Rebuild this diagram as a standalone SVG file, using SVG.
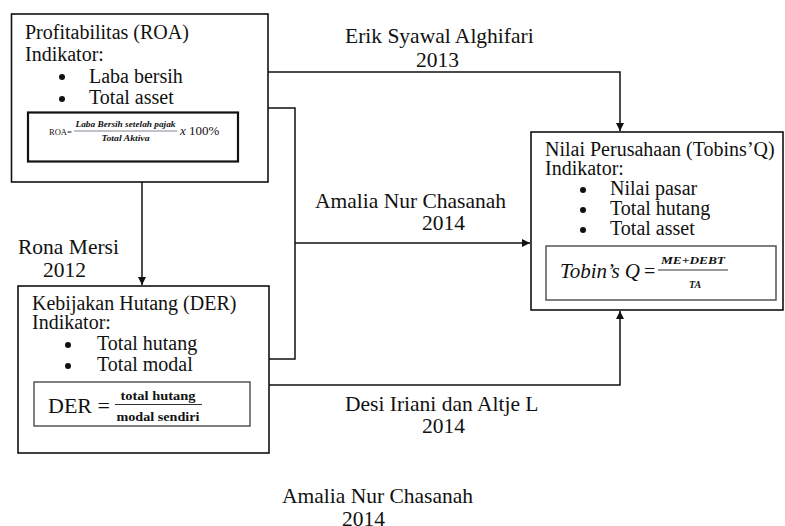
<svg xmlns="http://www.w3.org/2000/svg" width="785" height="526" viewBox="0 0 785 526" font-family="'Liberation Serif', 'DejaVu Serif', serif">
<defs>
<style>
text{font-family:'Liberation Serif','DejaVu Serif',serif;fill:#111}
.t{font-size:20px}
.lb{font-size:21.5px}
.box{fill:#fff;stroke:#111;stroke-width:1.6}
.fbox{fill:#fff;stroke:#555;stroke-width:1.5}
.con{fill:none;stroke:#111;stroke-width:1.5}
.dot{fill:#111}
</style>
<marker id="ah" viewBox="0 0 10 10" refX="10" refY="5" markerWidth="8" markerHeight="8" markerUnits="userSpaceOnUse" orient="auto">
<path d="M0,0 L10,5 L0,10 z" fill="#111"/>
</marker>
</defs>
<rect width="785" height="526" fill="#fff"/>

<g id="connectors">
<path class="con" d="M268,72 H620 V131" marker-end="url(#ah)"/>
<path class="con" d="M268,108 H295 V359 H269"/>
<path class="con" d="M295,243 H530" marker-end="url(#ah)"/>
<path class="con" d="M269,385 H620 V311" marker-end="url(#ah)"/>
<path class="con" d="M142,182 V285" marker-end="url(#ah)"/>
</g>

<g id="roa">
<rect class="box" x="11.5" y="14" width="256.5" height="168"/>
<text class="t" x="25" y="39">Profitabilitas (ROA)</text>
<text class="t" x="25" y="61">Indikator:</text>
<circle class="dot" cx="62" cy="77" r="3"/>
<text class="t" x="89" y="83">Laba bersih</text>
<circle class="dot" cx="62" cy="99" r="3"/>
<text class="t" x="89" y="104">Total asset</text>
<rect x="28" y="112.5" width="210" height="49" fill="#fff" stroke="#111" stroke-width="2.2"/>
<text x="49" y="135" font-size="8.5" fill="#667">ROA=</text>
<text x="125.5" y="127" font-size="7.5" font-style="italic" font-weight="bold" fill="#667" text-anchor="middle" textLength="100" lengthAdjust="spacingAndGlyphs">Laba Bersih setelah pajak</text>
<line x1="74" y1="131" x2="177" y2="131" stroke="#667" stroke-width="0.8"/>
<text x="125.5" y="141" font-size="7.5" font-style="italic" font-weight="bold" fill="#667" text-anchor="middle" textLength="48" lengthAdjust="spacingAndGlyphs">Total Aktiva</text>
<text x="180" y="135" font-size="13"><tspan font-style="italic">x</tspan> 100%</text>
</g>

<g id="der">
<rect class="box" x="18" y="286" width="251" height="167"/>
<text class="t" x="32" y="310">Kebijakan Hutang (DER)</text>
<text class="t" x="32" y="329">Indikator:</text>
<circle class="dot" cx="68" cy="345" r="3"/>
<text class="t" x="97" y="350">Total hutang</text>
<circle class="dot" cx="68" cy="366" r="3"/>
<text class="t" x="97" y="371">Total modal</text>
<rect class="fbox" x="34" y="382" width="216" height="44"/>
<text x="48" y="413" font-size="22">DER =</text>
<text x="158" y="400" font-size="13" font-weight="bold" fill="#333" text-anchor="middle" textLength="75" lengthAdjust="spacingAndGlyphs">total hutang</text>
<line x1="115" y1="404.5" x2="202" y2="404.5" stroke="#333" stroke-width="1"/>
<text x="158" y="421" font-size="13" font-weight="bold" fill="#333" text-anchor="middle" textLength="83" lengthAdjust="spacingAndGlyphs">modal sendiri</text>
</g>

<g id="nilai">
<rect class="box" x="531" y="132" width="252" height="178"/>
<text class="t" x="545" y="156">Nilai Perusahaan (Tobins’Q)</text>
<text class="t" x="545" y="175">Indikator:</text>
<circle class="dot" cx="583" cy="190" r="3"/>
<text class="t" x="610" y="195">Nilai pasar</text>
<circle class="dot" cx="583" cy="210" r="3"/>
<text class="t" x="610" y="215">Total hutang</text>
<circle class="dot" cx="583" cy="230" r="3"/>
<text class="t" x="610" y="235">Total asset</text>
<rect class="fbox" x="546" y="246" width="230" height="54"/>
<text x="560" y="278" font-size="20" font-style="italic" fill="#333" textLength="80" lengthAdjust="spacingAndGlyphs">Tobin’s Q</text>
<text x="644" y="278" font-size="20" fill="#333">=</text>
<text x="693" y="264" font-size="10" font-style="italic" font-weight="bold" fill="#333" text-anchor="middle" textLength="64" lengthAdjust="spacingAndGlyphs">ME+DEBT</text>
<line x1="658" y1="270" x2="728" y2="270" stroke="#333" stroke-width="1"/>
<text x="695" y="288" font-size="10" font-style="italic" font-weight="bold" fill="#333" text-anchor="middle">TA</text>
</g>

<g id="labels">
<text class="lb" x="345" y="43">Erik Syawal Alghifari</text>
<text class="lb" x="416" y="67">2013</text>
<text class="lb" x="315" y="208">Amalia Nur Chasanah</text>
<text class="lb" x="422" y="230">2014</text>
<text class="lb" x="18" y="254">Rona Mersi</text>
<text class="lb" x="43" y="277">2012</text>
<text class="lb" x="345" y="411">Desi Iriani dan Altje L</text>
<text class="lb" x="422" y="433">2014</text>
<text class="lb" x="282" y="503">Amalia Nur Chasanah</text>
<text class="lb" x="342" y="526">2014</text>
</g>
</svg>
